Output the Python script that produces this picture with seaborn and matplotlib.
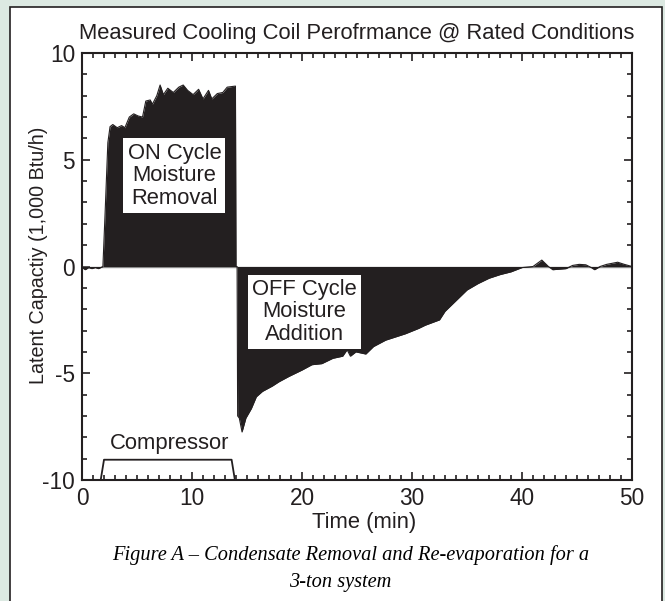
import numpy as np
import pandas as pd
import matplotlib
matplotlib.use("Agg")
import matplotlib.pyplot as plt
from matplotlib.patches import Rectangle
from matplotlib.ticker import MultipleLocator
import seaborn as sns

# ---- data ----
time_min = [0.0, 0.3, 0.6, 0.9, 1.2, 1.5, 1.9, 2.1, 2.35, 2.55, 2.8, 3.2, 3.6, 3.9,
            4.3, 4.7, 5.1, 5.5, 5.8, 6.2, 6.4, 6.8, 7.1, 7.4, 7.8, 8.3, 8.8, 9.2,
            9.6, 10.1, 10.6, 11.0, 11.5, 11.8, 12.3, 12.8, 13.2, 13.95, 14.0,
            14.1, 14.15, 14.3, 14.55, 14.9, 15.4, 15.85, 16.4, 17.3, 17.9, 18.8,
            19.4, 20.0, 20.9, 21.8, 22.8, 23.7, 24.1, 24.4, 24.9, 25.8, 26.5,
            27.6, 29.4, 30.6, 31.2, 32.5, 33.0, 33.6, 34.3, 35.0, 36.0, 37.0,
            38.0, 39.0, 40.0, 41.0, 41.8, 42.4, 42.8, 44.0, 44.6, 45.2, 45.8,
            46.3, 46.6, 47.1, 47.7, 48.7, 49.3, 50.0]
latent_cap = [-0.05, -0.15, -0.05, -0.1, -0.05, -0.1, 0.0, 2.5, 5.8, 6.55, 6.65, 6.5,
              6.6, 6.5, 7.0, 7.15, 7.05, 7.0, 7.75, 7.8, 7.6, 8.0, 8.5, 8.05, 8.35,
              8.15, 8.4, 8.5, 8.25, 8.05, 8.3, 7.85, 8.25, 7.85, 8.1, 8.15, 8.4,
              8.45, 0.0, 0.0, -7.0, -7.1, -7.75, -7.1, -6.65, -6.1, -5.85, -5.6,
              -5.4, -5.15, -5.0, -4.85, -4.6, -4.55, -4.3, -4.2, -3.9, -4.2, -4.0,
              -4.1, -3.75, -3.45, -3.15, -2.9, -2.75, -2.5, -2.1, -1.8, -1.45,
              -1.1, -0.8, -0.55, -0.38, -0.25, -0.05, 0.0, 0.3, 0.0, -0.15, -0.1,
              0.05, 0.1, 0.08, -0.05, -0.15, 0.0, 0.1, 0.2, 0.1, 0.0]

compressor_t = [1.7, 2.0, 13.6, 13.9]
compressor_v = [-10.0, -9.05, -9.05, -10.0]

title = "Measured Cooling Coil Perofrmance @ Rated Conditions"
xlabel = "Time (min)"
ylabel = "Latent Capactiy (1,000 Btu/h)"
on_label = "ON Cycle\nMoisture\nRemoval"
off_label = "OFF Cycle\nMoisture\nAddition"
comp_label = "Compressor"
caption1 = "Figure A \u2013 Condensate Removal and Re-evaporation for a"
caption2 = "3-ton system"
xticks = [0, 10, 20, 30, 40, 50]
yticks = [-10, -5, 0, 5, 10]

# ---- style ----
sns.set_style("ticks")
plt.rcParams['font.family'] = ['Liberation Sans', 'DejaVu Sans']
plt.rcParams['axes.unicode_minus'] = False
ink = "#231f20"
fs = 15.8

fig = plt.figure(figsize=(6.65, 6.01), dpi=100)
fig.patch.set_facecolor("#dce9e2")
fig.patches.append(Rectangle((10 / 665, -0.1), (662 - 10) / 665, 1 - 7 / 601 + 0.1,
                             transform=fig.transFigure, facecolor="white",
                             edgecolor=ink, lw=1.2, zorder=-5))

ax = fig.add_axes([82 / 665, 1 - 480 / 601, 550 / 665, 427 / 601])
ax.set_zorder(2)
ax.set_facecolor("white")

df = pd.DataFrame({"t": time_min, "v": latent_cap})
ax.axhline(0, color="#8a8a8a", lw=1.0, zorder=1)
ax.fill_between(df["t"], df["v"], 0, color=ink, lw=0, zorder=2)
sns.lineplot(data=df, x="t", y="v", ax=ax, color=ink, lw=0.8,
             estimator=None, sort=False, zorder=3)

cdf = pd.DataFrame({"t": compressor_t, "v": compressor_v})
sns.lineplot(data=cdf, x="t", y="v", ax=ax, color=ink, lw=1.3,
             estimator=None, sort=False, zorder=3)

ax.set_xlim(0, 50)
ax.set_ylim(-10, 10)
ax.set_xticks(xticks)
ax.set_yticks(yticks)
ax.xaxis.set_minor_locator(MultipleLocator(1))
ax.yaxis.set_minor_locator(MultipleLocator(1))
ax.tick_params(which="both", direction="in", top=True, right=True,
               color=ink, width=1.2, labelsize=16.3, labelcolor=ink)
ax.tick_params(which="major", length=6, pad=5)
ax.tick_params(which="minor", length=3.5)
for s in ax.spines.values():
    s.set_visible(True)
    s.set_color(ink)
    s.set_linewidth(1.5)

ax.set_xlabel(xlabel, fontsize=fs, color=ink)
ax.set_ylabel(ylabel, fontsize=14.2, color=ink)
ax.xaxis.set_label_coords(0.513, -0.10)
ax.yaxis.set_label_coords(-0.079, 0.527)
ax.xaxis.label.set_va("center")
ax.yaxis.label.set_va("center")

box = dict(facecolor="white", edgecolor="none", pad=3)
ax.text(8.4, 4.25, on_label, ha="center", va="center", fontsize=fs, color=ink,
        linespacing=1.1, bbox=box, zorder=5)
ax.text(20.2, -2.13, off_label, ha="center", va="center", fontsize=fs, color=ink,
        linespacing=1.1, bbox=box, zorder=5)
ax.text(8.0, -8.3, comp_label, ha="center", va="center", fontsize=fs, color=ink,
        zorder=5)

fig.text(357 / 665, 1 - 33 / 601, title, ha="center", va="center",
         fontsize=fs, color=ink)
fig.text(351 / 665, 1 - 555 / 601, caption1, ha="center", va="center",
         fontsize=14.7, style="italic", family=["Liberation Serif", "DejaVu Serif"],
         color="black")
fig.text(340 / 665, 1 - 583 / 601, caption2, ha="center", va="center",
         fontsize=14.7, style="italic", family=["Liberation Serif", "DejaVu Serif"],
         color="black")

fig.savefig("out.png", dpi=100, facecolor=fig.get_facecolor())
